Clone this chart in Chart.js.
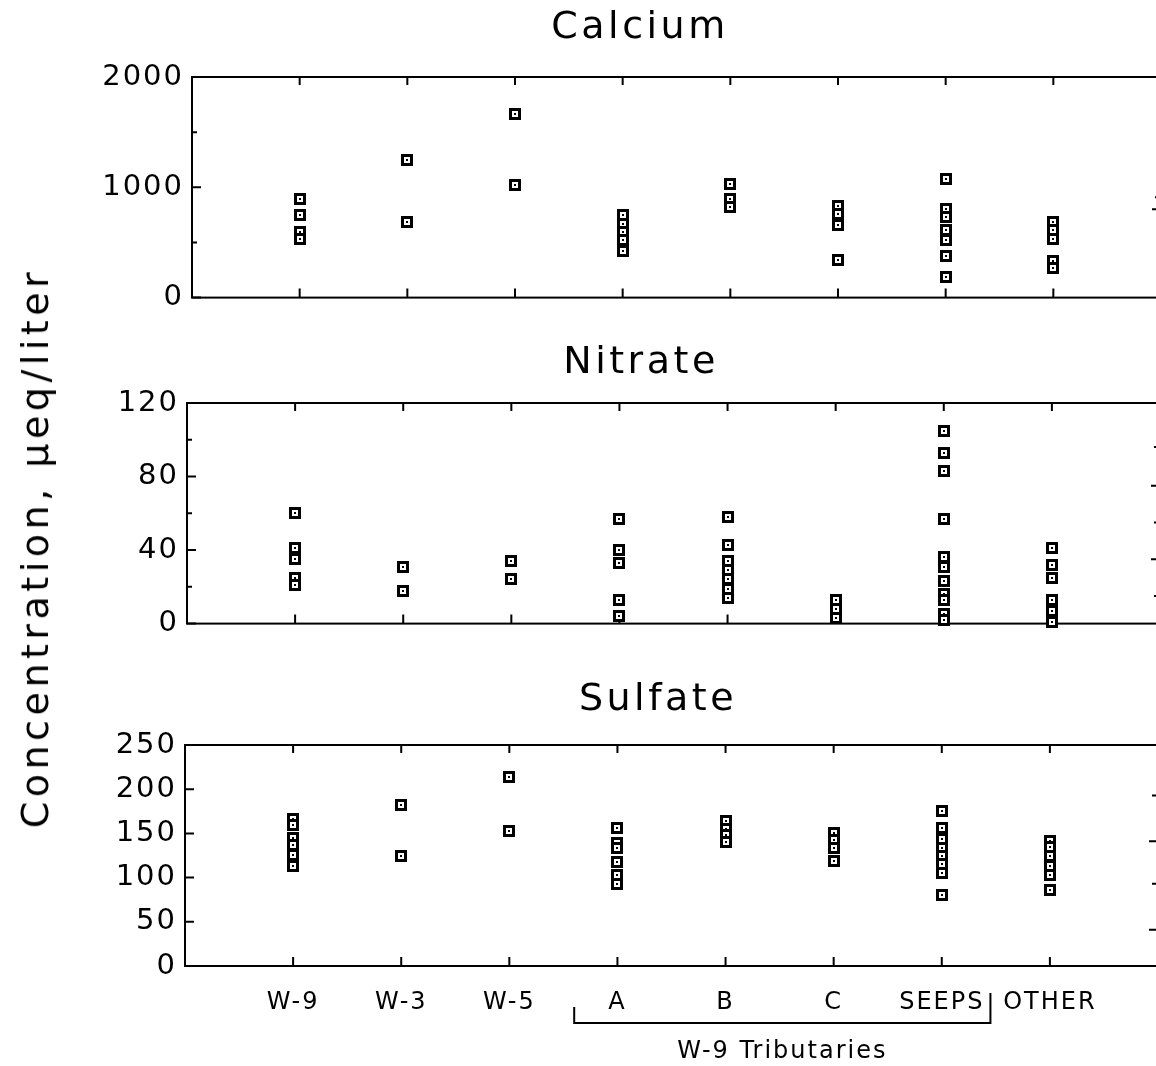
<!DOCTYPE html>
<html>
<head>
<meta charset="utf-8">
<title>Calcium, Nitrate, Sulfate</title>
<script src="https://cdn.jsdelivr.net/npm/chart.js@4"></script>
<style>
  html, body { margin: 0; padding: 0; background: #fff; overflow: hidden; width: 1156px; height: 1066px; }
  canvas { position: absolute; left: 0; }
  #ytitle {
    position: absolute; left: 35px; top: 548px;
    transform: translate(-50%, -50%) rotate(-90deg);
    font: 38px "DejaVu Sans"; letter-spacing: 4.5px; white-space: nowrap; color: #000;
  }
</style>
</head>
<body>
<canvas id="ca" width="1170" height="323" style="top:0px"></canvas>
<canvas id="no3" width="1170" height="319" style="top:330px"></canvas>
<canvas id="so4" width="1170" height="416" style="top:650px"></canvas>
<div id="ytitle">Concentration, µeq/liter</div>
<script>
const sites = ['W-9', 'W-3', 'W-5', 'A', 'B', 'C', 'SEEPS', 'OTHER'];

// values per site, µeq/liter
const calcium = [
  [897, 752, 594, 527],
  [1243, 685],
  [1661, 1024],
  [745, 670, 594, 518, 427],
  [1033, 897, 821],
  [827, 755, 661, 343],
  [1079, 806, 730, 609, 518, 373, 191],
  [685, 615, 527, 336, 270]
];
const nitrate = [
  [60, 41, 35, 25, 21],
  [31, 18],
  [34, 24],
  [57, 40, 33, 13, 4],
  [58, 43, 34, 29, 24, 19, 14],
  [13, 8, 3],
  [105, 93, 83, 57, 36, 31, 23, 16, 13, 5, 2],
  [41, 32, 25, 13, 7, 1]
];
const sulfate = [
  [166, 159, 145, 137, 126, 113],
  [182, 125],
  [214, 153],
  [156, 139, 133, 118, 103, 93],
  [164, 155, 148, 140],
  [150, 142, 134, 119],
  [175, 156, 144, 134, 124, 115, 105, 80],
  [141, 135, 125, 113, 103, 86]
];

const caTicks = [0, 1000, 2000];
const caMinor = [500, 1500];
const caRight = [909, 800];
const no3Ticks = [0, 40, 80, 120];
const no3Minor = [20, 60, 100];
const no3Right = [96, 75, 55, 35, 15];
const so4Ticks = [0, 50, 100, 150, 200, 250];
const so4Minor = [];
const so4Right = [193, 141, 93, 41];

const FONT = '"DejaVu Sans"';

function makeMarker() {
  const c = document.createElement('canvas');
  c.width = 12; c.height = 12;
  const g = c.getContext('2d');
  g.fillStyle = '#000'; g.fillRect(0, 0, 12, 12);
  g.fillStyle = '#fff'; g.fillRect(3, 3, 6, 6);
  g.fillStyle = '#000'; g.fillRect(5, 5, 2, 2);
  return c;
}
const marker = makeMarker();

function toPoints(values) {
  const pts = [];
  values.forEach((list, i) => list.forEach(v => pts.push({ x: i + 1, y: v })));
  return pts;
}

// box round the plot with inward tick marks, plus the panel title
const framePlugin = {
  id: 'frame',
  beforeDraw(chart) {
    chart.ctx.letterSpacing = '2px';
    chart.ctx.imageSmoothingEnabled = false;
  },
  beforeDatasetsDraw(chart, args, opts) {
    const { ctx, chartArea: a, scales: { x, y } } = chart;
    ctx.save();
    ctx.strokeStyle = '#000';
    ctx.lineWidth = 2;
    ctx.strokeRect(a.left, a.top, a.right - a.left, a.bottom - a.top);
    ctx.beginPath();
    sites.forEach((s, i) => {
      const px = x.getPixelForValue(i + 1);
      ctx.moveTo(px, a.top); ctx.lineTo(px, a.top + 8);
      ctx.moveTo(px, a.bottom); ctx.lineTo(px, a.bottom - 9);
    });
    opts.major.forEach(v => {
      const py = y.getPixelForValue(v);
      ctx.moveTo(a.left, py); ctx.lineTo(a.left + 9, py);
    });
    opts.minor.forEach(v => {
      const py = y.getPixelForValue(v);
      ctx.moveTo(a.left, py); ctx.lineTo(a.left + 5, py);
    });
    opts.right.forEach((v, i) => {
      const py = y.getPixelForValue(v);
      ctx.moveTo(a.right, py); ctx.lineTo(a.right - (i % 2 ? 9 : 6), py);
    });
    ctx.stroke();
    ctx.restore();
  },
  afterDraw(chart, args, opts) {
    const ctx = chart.ctx;
    ctx.save();
    ctx.fillStyle = '#000';
    ctx.font = '38px ' + FONT;
    ctx.letterSpacing = '3.5px';
    ctx.textAlign = 'center';
    ctx.textBaseline = 'middle';
    ctx.fillText(opts.title, opts.titleX, opts.titleY);
    ctx.restore();
  }
};

// bracket under the tributaries
const bracketPlugin = {
  id: 'bracket',
  afterDraw(chart) {
    const { ctx, chartArea: a, scales: { x } } = chart;
    const x1 = x.getPixelForValue(3.6), x2 = x.getPixelForValue(7.45);
    const yb = a.bottom + 57;
    ctx.save();
    ctx.strokeStyle = '#000';
    ctx.lineWidth = 2;
    ctx.beginPath();
    ctx.moveTo(x1, a.bottom + 41); ctx.lineTo(x1, yb); ctx.lineTo(x2, yb); ctx.lineTo(x2, a.bottom + 27);
    ctx.stroke();
    ctx.fillStyle = '#000';
    ctx.font = '24px ' + FONT;
    ctx.letterSpacing = '2px';
    ctx.textAlign = 'center';
    ctx.textBaseline = 'middle';
    ctx.fillText('W-9 Tributaries', (x1 + x2) / 2, a.bottom + 86);
    ctx.restore();
  }
};

function makePanel(id, opt) {
  const plugins = [framePlugin];
  if (opt.bottom) plugins.push(bracketPlugin);
  return new Chart(document.getElementById(id), {
    type: 'scatter',
    data: {
      datasets: [{
        data: toPoints(opt.values),
        pointStyle: marker,
        pointRadius: 6,
        showLine: false,
        clip: false
      }]
    },
    options: {
      responsive: false,
      animation: false,
      events: [],
      layout: { padding: { top: opt.padTop, bottom: opt.padBottom, left: 0, right: opt.padRight } },
      scales: {
        x: {
          type: 'linear',
          min: 0,
          max: 9,
          display: !!opt.bottom,
          grid: { display: false, drawTicks: false },
          border: { display: false },
          afterBuildTicks: s => { s.ticks = sites.map((n, i) => ({ value: i + 1 })); },
          afterFit: s => { if (opt.bottom) s.height = 100; },
          ticks: {
            color: '#000',
            padding: 22,
            maxRotation: 0,
            autoSkip: false,
            font: { family: FONT, size: 24 },
            callback: v => sites[v - 1] || ''
          }
        },
        y: {
          min: opt.min,
          max: opt.max,
          grid: { display: false, drawTicks: false },
          border: { display: false },
          afterBuildTicks: s => { s.ticks = opt.major.map(v => ({ value: v })); },
          afterFit: s => { s.width = opt.left; },
          ticks: {
            color: '#000',
            padding: 8,
            font: { family: FONT, size: 29 },
            callback: v => String(v)
          }
        }
      },
      plugins: {
        legend: { display: false },
        tooltip: { enabled: false },
        title: { display: false },
        frame: {
          major: opt.major, minor: opt.minor, right: opt.right,
          title: opt.title, titleX: opt.titleX, titleY: opt.titleY
        }
      }
    },
    plugins: plugins
  });
}

makePanel('ca', {
  title: 'Calcium', titleX: 640, titleY: 28, values: calcium, min: 0, max: 2000,
  major: caTicks, minor: caMinor, right: caRight,
  left: 192, padTop: 77, padBottom: 0, padRight: 9
});
makePanel('no3', {
  title: 'Nitrate', titleX: 641, titleY: 33, values: nitrate, min: 0, max: 120,
  major: no3Ticks, minor: no3Minor, right: no3Right,
  left: 187, padTop: 73, padBottom: 0, padRight: 10
});
makePanel('so4', {
  title: 'Sulfate', titleX: 658, titleY: 50, values: sulfate, min: 0, max: 250,
  major: so4Ticks, minor: so4Minor, right: so4Right,
  left: 185, padTop: 95, padBottom: 0, padRight: 12, bottom: true
});
</script>
</body>
</html>
